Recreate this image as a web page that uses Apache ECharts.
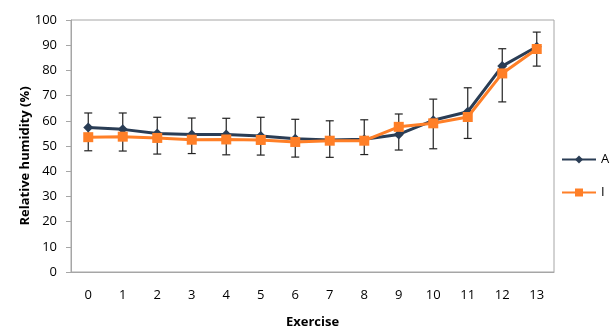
<!DOCTYPE html>
<html><head><meta charset="utf-8">
<script src="https://cdn.jsdelivr.net/npm/echarts@6/dist/echarts.min.js"></script>
<style>html,body{margin:0;padding:0;background:#fff}#c{width:610px;height:329px}</style>
</head><body><div id="c"></div>
<script>
var categories = ['0','1','2','3','4','5','6','7','8','9','10','11','12','13'];
var seriesA = [57.3, 56.6, 55.0, 54.6, 54.6, 54.0, 52.9, 52.4, 52.7, 54.6, 60.2, 63.6, 81.7, 89.4];
var seriesI = [53.5, 53.7, 53.2, 52.5, 52.6, 52.4, 51.6, 52.1, 52.1, 57.6, 59.0, 61.5, 78.8, 88.5];
var errLow  = [48.1, 48.0, 46.8, 47.0, 46.5, 46.4, 45.6, 45.5, 46.6, 48.4, 48.9, 53.0, 67.5, 81.7];
var errHigh = [63.1, 63.1, 61.4, 61.1, 61.0, 61.4, 60.6, 60.0, 60.4, 62.7, 68.6, 73.1, 88.6, 95.2];
var yTicks = {min: 0, max: 100, interval: 10};

var errData = categories.map(function(c, i){ return [i, errLow[i], errHigh[i]]; });
var font = '"Open Sans", "Liberation Sans", sans-serif';
var chart = echarts.init(document.getElementById('c'));
chart.setOption({
  animation: false,
  grid: {left: 71, right: 56, top: 20, bottom: 57, show: true, borderColor: '#a6a6a6', borderWidth: 1,
         containLabel: false, outerBoundsMode: 'none'},
  legend: {
    orient: 'vertical', left: 556, top: 148, itemGap: 20, itemWidth: 34, itemHeight: 10,
    textStyle: {fontFamily: font, fontSize: 13, color: '#000'},
    data: ['A', 'I']
  },
  xAxis: {
    type: 'category', data: categories, boundaryGap: true,
    name: 'Exercise', nameLocation: 'middle', nameGap: 44,
    nameTextStyle: {fontFamily: font, fontSize: 13, fontWeight: 'bold', color: '#000'},
    axisLine: {lineStyle: {color: '#a6a6a6'}}, axisTick: {show: false},
    axisLabel: {fontFamily: font, fontSize: 13, color: '#000', margin: 17},
    splitLine: {show: false}
  },
  yAxis: {
    type: 'value', min: yTicks.min, max: yTicks.max, interval: yTicks.interval,
    name: 'Relative humidity (%)', nameLocation: 'middle', nameGap: 39, nameMoveOverlap: false,
    nameTextStyle: {fontFamily: font, fontSize: 13, fontWeight: 'bold', color: '#000', padding: [0, 20, 0, 0]},
    axisLine: {show: true, lineStyle: {color: '#a6a6a6'}},
    axisTick: {show: true, length: 5, lineStyle: {color: '#a6a6a6'}},
    axisLabel: {fontFamily: font, fontSize: 13, color: '#000', margin: 14},
    splitLine: {show: false}
  },
  series: [
    {
      type: 'custom', name: 'err', z: 1, silent: true,
      data: errData,
      renderItem: function(params, api){
        var x = api.value(0);
        var lo = api.coord([x, api.value(1)]);
        var hi = api.coord([x, api.value(2)]);
        var w = 4;
        var st = {stroke: '#222', lineWidth: 1.2};
        return {type: 'group', children: [
          {type: 'line', shape: {x1: lo[0], y1: lo[1], x2: hi[0], y2: hi[1]}, style: st},
          {type: 'line', shape: {x1: lo[0]-w, y1: lo[1], x2: lo[0]+w, y2: lo[1]}, style: st},
          {type: 'line', shape: {x1: hi[0]-w, y1: hi[1], x2: hi[0]+w, y2: hi[1]}, style: st}
        ]};
      }
    },
    {
      type: 'line', name: 'A', data: seriesA, z: 3,
      symbol: 'diamond', symbolSize: 10,
      lineStyle: {color: '#2a3d55', width: 3},
      itemStyle: {color: '#2a3d55'}
    },
    {
      type: 'line', name: 'I', data: seriesI, z: 4,
      symbol: 'rect', symbolSize: 10,
      lineStyle: {color: '#ff7f27', width: 3},
      itemStyle: {color: '#ff7f27'}
    }
  ]
});
</script></body></html>
